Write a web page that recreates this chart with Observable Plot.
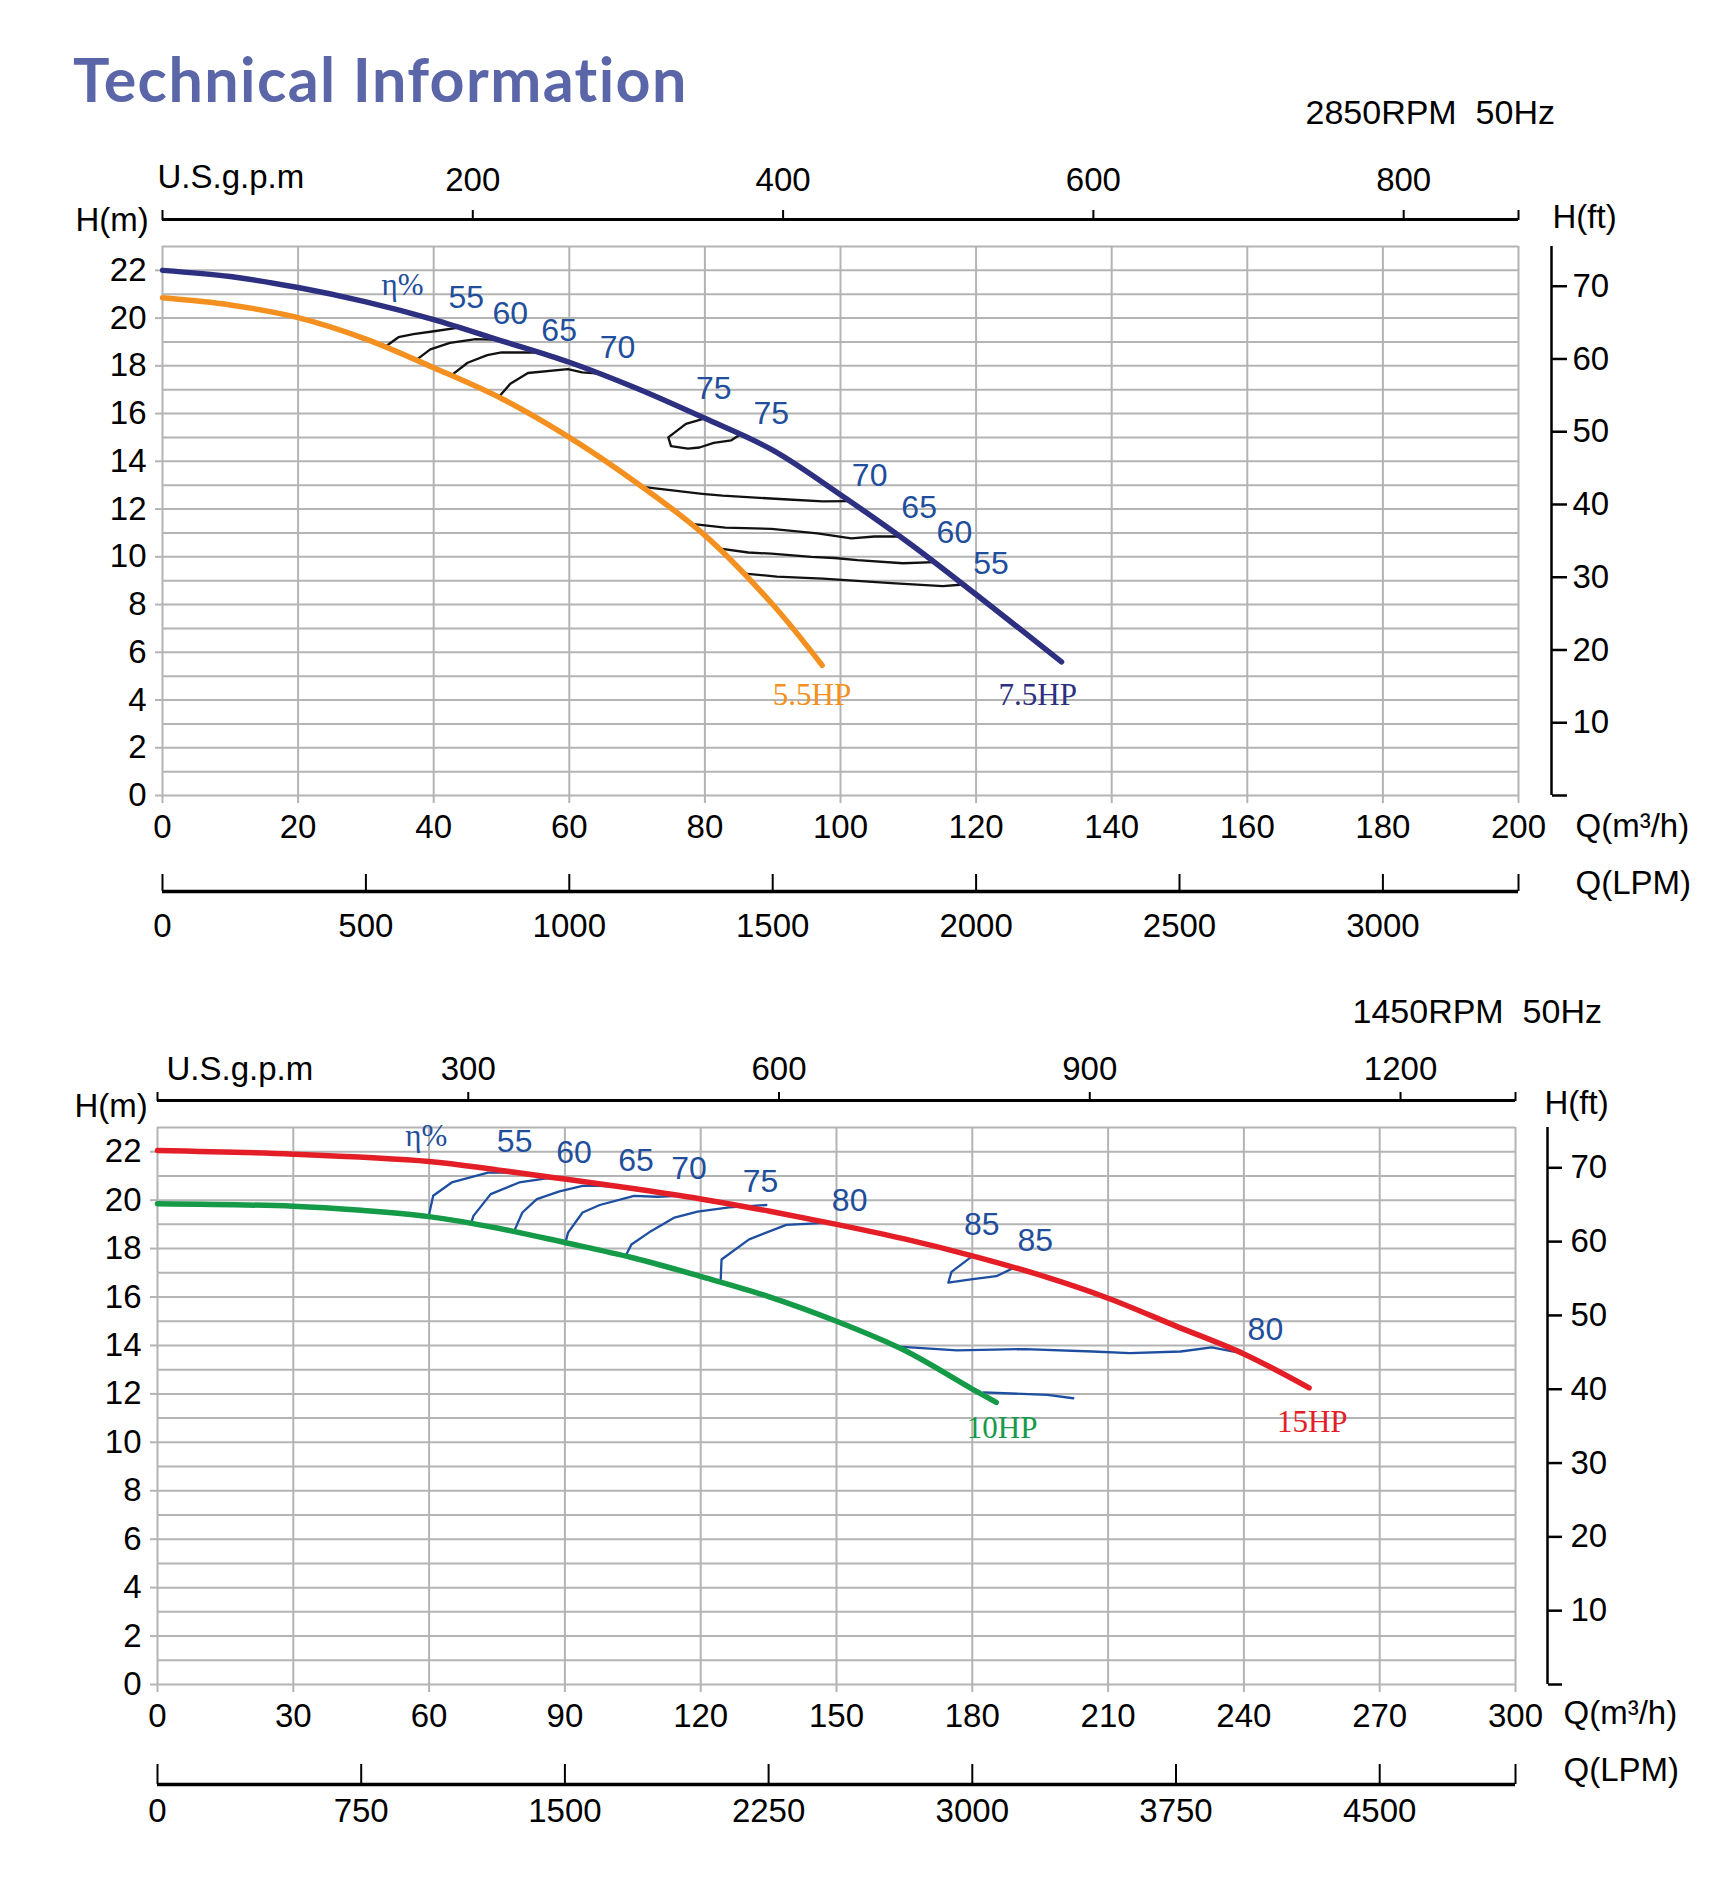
<!DOCTYPE html>
<html>
<head>
<meta charset="utf-8">
<script src="https://cdn.jsdelivr.net/npm/d3@7"></script>
<script src="https://cdn.jsdelivr.net/npm/@observablehq/plot@0.6"></script>
<style>
  html, body { margin: 0; padding: 0; background: #ffffff; }
  #page { position: relative; width: 1736px; height: 1884px; overflow: hidden; background: #ffffff; }
  #title { position: absolute; left: 73px; top: 48px; font-family: Lato, "Open Sans", sans-serif; font-weight: 700; font-size: 61px; line-height: 1; letter-spacing: 1.4px; color: #5a66a8; white-space: nowrap; }
</style>
</head>
<body>
<div id="page"><div id="title">Technical Information</div></div>
<script>
// ---------------- unit conversions (as drawn on the chart) ----------------
const GPM_PER_M3H = 4.37;        // U.S.g.p.m scale as drawn
const LPM_PER_M3H = 1000 / 60;
const FT_PER_M = 3.28084;

// ---------------- shared tick values ----------------
const hTicks = [0, 2, 4, 6, 8, 10, 12, 14, 16, 18, 20, 22];
const hGrid = [0, 1, 2, 3, 4, 5, 6, 7, 8, 9, 10, 11, 12, 13, 14, 15, 16, 17, 18, 19, 20, 21, 22, 23];
const ftTicks = [0, 10, 20, 30, 40, 50, 60, 70];

// ---------------- panel 1 : 2850RPM 50Hz ----------------
const p1Rpm = "2850RPM  50Hz";
const p1QMax = 200;
const p1QTicks = [0, 20, 40, 60, 80, 100, 120, 140, 160, 180, 200];
const p1GpmTicks = [200, 400, 600, 800];
const p1LpmTicks = [0, 500, 1000, 1500, 2000, 2500, 3000];

const p1Hp75 = [[0, 22.0], [10, 21.74], [20, 21.28], [30, 20.68], [40, 19.94], [50, 19.05], [60, 18.15], [70, 17.05], [80, 15.8], [90, 14.47], [100, 12.6], [110, 10.6], [120, 8.42], [132.6, 5.6]];
const p1Hp55 = [[0, 20.85], [10, 20.55], [20, 20.02], [30, 19.12], [40, 17.92], [50, 16.63], [60, 15.0], [70, 13.08], [80, 10.9], [90, 8.0], [97.3, 5.45]];

const p1Eta55a = [[32.7, 18.77], [34.8, 19.2], [37.0, 19.33], [40.3, 19.46], [43.7, 19.6]];
const p1Eta60a = [[37.4, 18.24], [39.5, 18.69], [42.4, 18.96], [46.2, 19.12], [49.6, 19.09]];
const p1Eta65a = [[42.6, 17.6], [45.0, 18.13], [47.9, 18.45], [50.0, 18.56], [55.5, 18.56]];
const p1Eta70a = [[49.6, 16.69], [51.3, 17.25], [53.9, 17.7], [59.8, 17.86], [61.9, 17.73], [64.4, 17.68]];
const p1Eta75 = [[80.0, 15.8], [77.2, 15.57], [74.6, 15.0], [75.0, 14.64], [77.5, 14.53], [79.2, 14.58], [81.3, 14.77], [83.9, 14.88], [85.1, 15.1]];
const p1Eta70b = [[70.8, 12.93], [79.6, 12.64], [82.6, 12.56], [92.3, 12.4], [97.4, 12.32], [101.2, 12.33]];
const p1Eta65b = [[78.0, 11.38], [83.0, 11.22], [89.8, 11.17], [96.6, 10.98], [101.6, 10.77], [105.0, 10.85], [108.8, 10.85]];
const p1Eta60b = [[82.0, 10.35], [86.4, 10.18], [89.8, 10.13], [95.7, 10.0], [99.1, 9.95], [102.5, 9.86], [109.2, 9.73], [113.9, 9.78]];
const p1Eta55b = [[85.5, 9.31], [90.6, 9.17], [97.4, 9.09], [107.5, 8.9], [115.1, 8.77], [118.1, 8.84]];

const p1EtaSymbol = { q: 35.4, h: 21.4 };
const p1EtaText = ["55", "60", "65", "70", "75", "75", "70", "65", "60", "55"];
const p1EtaQ = [44.8, 51.3, 58.5, 67.1, 81.3, 89.8, 104.3, 111.6, 116.8, 122.2];
const p1EtaH = [20.85, 20.2, 19.46, 18.77, 17.06, 16.0, 13.4, 12.05, 11.0, 9.69];
const p1HpText = ["5.5HP", "7.5HP"];
const p1HpQ = [95.8, 129.1];
const p1HpH = [4.21, 4.21];

// ---------------- panel 2 : 1450RPM 50Hz ----------------
const p2Rpm = "1450RPM  50Hz";
const p2QMax = 300;
const p2QTicks = [0, 30, 60, 90, 120, 150, 180, 210, 240, 270, 300];
const p2GpmTicks = [300, 600, 900, 1200];
const p2LpmTicks = [0, 750, 1500, 2250, 3000, 3750, 4500];

const p2Hp15 = [[0, 22.05], [30, 21.9], [60, 21.6], [75, 21.25], [90, 20.87], [105, 20.48], [120, 20.05], [135, 19.55], [150, 19.0], [165, 18.4], [180, 17.7], [195, 16.9], [210, 15.95], [225, 14.8], [240, 13.65], [254.4, 12.25]];
const p2Hp10 = [[0, 19.85], [30, 19.75], [45, 19.58], [60, 19.32], [75, 18.85], [90, 18.25], [105, 17.62], [120, 16.85], [135, 16.02], [150, 15.0], [165, 13.8], [180, 12.2], [185.3, 11.65]];

const p2Eta55 = [[59.9, 19.32], [60.9, 20.18], [65.0, 20.73], [73.0, 21.14], [79.9, 21.14]];
const p2Eta60 = [[69.2, 19.0], [69.8, 19.35], [73.6, 20.25], [79.9, 20.73], [86.3, 20.91], [91.4, 20.87]];
const p2Eta65 = [[78.7, 18.68], [80.6, 19.49], [83.8, 20.04], [88.8, 20.36], [93.9, 20.59], [97.7, 20.59], [103.4, 20.52]];
const p2Eta70 = [[90.1, 18.24], [90.7, 18.66], [93.9, 19.49], [97.7, 19.8], [105.3, 20.18], [110.4, 20.14], [115.4, 20.18]];
const p2Eta75 = [[103.4, 17.69], [104.7, 18.17], [109.1, 18.73], [114.2, 19.28], [119.3, 19.53], [126.3, 19.7], [134.5, 19.8]];
const p2Eta80a = [[124.4, 16.63], [124.6, 17.55], [130.7, 18.38], [138.9, 18.98], [148.5, 19.07]];
const p2Eta85 = [[180.0, 17.69], [175.4, 17.04], [174.7, 16.59], [179.7, 16.73], [185.3, 16.86], [189.1, 17.2]];
const p2Eta80b = [[162.9, 13.96], [176.6, 13.8], [191.6, 13.85], [206.6, 13.75], [214.8, 13.68], [226.0, 13.75], [232.9, 13.92], [240.0, 13.66]];
const p2Eta75b = [[182.5, 12.06], [196.6, 11.96], [202.3, 11.82]];

const p2EtaSymbol = { q: 59.4, h: 22.66 };
const p2EtaText = ["55", "60", "65", "70", "75", "80", "85", "85", "80"];
const p2EtaQ = [78.9, 92.0, 105.7, 117.4, 133.2, 152.9, 182.1, 193.9, 244.75];
const p2EtaH = [22.41, 21.97, 21.63, 21.31, 20.76, 19.97, 18.98, 18.31, 14.65];
const p2HpText = ["10HP", "15HP"];
const p2HpQ = [186.6, 255.1];
const p2HpH = [10.58, 10.85];

// ---------------- styles ----------------
const W = 1736;
const GRID = "#b4b4b4";
const LABEL_BLUE = "#1f4e9c";
const SANS = "'Liberation Sans', Arial, Helvetica, sans-serif";
const SERIF = "'Liberation Serif', 'Times New Roman', serif";
const SVG_STYLE = "background:transparent;overflow:visible;font-family:" + SANS + ";color:#000;";
const FS = 33;
const plain = v => String(v);

const page = document.getElementById("page");
function put(svg, left, top) {
  svg.style.position = "absolute";
  svg.style.left = left + "px";
  svg.style.top = top + "px";
  page.appendChild(svg);
}

function drawPanel(L, D) {
  // ---- main chart ----
  const mt = 60, mb = 80;
  const main = Plot.plot({
    width: W,
    height: (L.frameB - L.frameT) + mt + mb,
    marginLeft: L.frameL, marginRight: W - L.frameR, marginTop: mt, marginBottom: mb,
    x: {domain: [0, D.qMax]},
    y: {domain: [0, 23]},
    style: SVG_STYLE,
    marks: [
      Plot.ruleY(hGrid, {stroke: GRID, strokeWidth: 2}),
      Plot.ruleX(D.qTicks, {stroke: GRID, strokeWidth: 2}),
      Plot.axisY({ticks: hTicks, tickFormat: plain, tickSize: 7, tickPadding: 9, stroke: GRID, strokeWidth: 2, fill: "#000", fontSize: FS, label: null}),
      Plot.axisX({ticks: D.qTicks, tickFormat: plain, tickSize: 8, tickPadding: 11, stroke: GRID, strokeWidth: 2, fill: "#000", fontSize: FS, label: null}),
      ...D.eff.map(e => Plot.line(e, {x: d => d[0], y: d => d[1], stroke: D.effColor, strokeWidth: 2.3})),
      ...D.curves.map(c => Plot.line(c.data, {x: d => d[0], y: d => d[1], stroke: c.color, strokeWidth: 5.5, curve: "catmull-rom"})),
      Plot.text(["η%"], {x: D.etaSymbol.q, y: D.etaSymbol.h, fill: LABEL_BLUE, fontSize: 31, fontFamily: SERIF}),
      Plot.text(D.etaText, {x: (d, i) => D.etaQ[i], y: (d, i) => D.etaH[i], fill: LABEL_BLUE, fontSize: 32}),
      Plot.text(D.hpText, {x: (d, i) => D.hpQ[i], y: (d, i) => D.hpH[i], fill: (d, i) => D.hpColors[i], fontSize: 31, fontFamily: SERIF}),
      Plot.text(["H(m)"], {frameAnchor: "top-left", textAnchor: "start", lineAnchor: "middle", dx: L.hmDx, dy: L.hmDy, fontSize: FS, fill: "#000"}),
      Plot.text(["H(ft)"], {frameAnchor: "top-right", textAnchor: "start", lineAnchor: "middle", dx: L.hftDx, dy: L.hftDy, fontSize: FS, fill: "#000"}),
      Plot.text(["Q(m³/h)"], {frameAnchor: "bottom-right", textAnchor: "start", lineAnchor: "middle", dx: L.qDx, dy: L.qm3Dy, fontSize: FS, fill: "#000"})
    ]
  });
  put(main, 0, L.frameT - mt);

  // ---- H(ft) axis ----
  const fl = 50, fw = 140;
  const ft = Plot.plot({
    width: fw,
    height: (L.frameB - L.frameT) + mt + mb,
    marginLeft: fl, marginRight: fw - fl - 1, marginTop: mt, marginBottom: mb,
    x: {domain: [0, 1], axis: null},
    y: {domain: [0, 23 * FT_PER_M]},
    style: SVG_STYLE,
    marks: [
      Plot.ruleX([1], {stroke: "#000", strokeWidth: 2.5}),
      Plot.axisY({anchor: "right", ticks: ftTicks, tickFormat: v => v === 0 ? "" : String(v), tickSize: L.ftTickLen, tickPadding: L.ftPad, stroke: "#000", strokeWidth: 2.5, fill: "#000", fontSize: FS, label: null})
    ]
  });
  put(ft, L.ftLine - fl - 1, L.frameT - mt);

  // ---- U.S.g.p.m axis ----
  const gmt = 150, gh = 161;
  const gpmMax = D.qMax * GPM_PER_M3H;
  const gpm = Plot.plot({
    width: W, height: gh,
    marginLeft: L.frameL, marginRight: W - L.frameR, marginTop: gmt, marginBottom: gh - gmt - 1,
    x: {domain: [0, gpmMax]},
    y: {domain: [0, 1], axis: null},
    style: SVG_STYLE,
    marks: [
      Plot.ruleY([1], {stroke: "#000", strokeWidth: 3}),
      Plot.axisX({anchor: "top", ticks: [0, ...D.gpmTicks, gpmMax], tickFormat: v => D.gpmTicks.includes(v) ? String(v) : "", tickSize: L.gpmTickLen, tickPadding: L.gpmPad, stroke: "#000", strokeWidth: 2, fill: "#000", fontSize: FS, label: null}),
      Plot.text(["U.S.g.p.m"], {frameAnchor: "top-left", textAnchor: "start", lineAnchor: "bottom", dx: L.gpmTitleDx, dy: L.gpmTitleDy, fontSize: FS, fill: "#000"}),
      Plot.text([D.rpm], {frameAnchor: "top-right", textAnchor: "start", lineAnchor: "middle", dx: L.rpmDx, dy: L.rpmDy, fontSize: 34, fill: "#000"})
    ]
  });
  put(gpm, 0, L.gpmLine - gmt);

  // ---- Q(LPM) axis ----
  const lmt = 40, lh = 100;
  const lpmMax = D.qMax * LPM_PER_M3H;
  const lpm = Plot.plot({
    width: W, height: lh,
    marginLeft: L.frameL, marginRight: W - L.frameR, marginTop: lmt, marginBottom: lh - lmt - 1,
    x: {domain: [0, lpmMax]},
    y: {domain: [0, 1], axis: null},
    style: SVG_STYLE,
    marks: [
      Plot.ruleY([0], {stroke: "#000", strokeWidth: 3.5}),
      Plot.axisX({anchor: "top", ticks: [...D.lpmTicks, lpmMax], tickFormat: () => "", tickSize: L.lpmTickLen, stroke: "#000", strokeWidth: 2, label: null}),
      Plot.axisX({anchor: "bottom", ticks: D.lpmTicks, tickFormat: plain, tickSize: 0, tickPadding: L.lpmPad, fill: "#000", fontSize: FS, label: null}),
      Plot.text(["Q(LPM)"], {frameAnchor: "top-right", textAnchor: "start", lineAnchor: "middle", dx: L.qDx, dy: L.qlpmDy, fontSize: FS, fill: "#000"})
    ]
  });
  put(lpm, 0, L.lpmLine - lmt);
}

drawPanel(
  {frameL: 162, frameR: 1518, frameT: 246, frameB: 795,
   hmDx: -87, hmDy: -26, hftDx: 34, hftDy: -29, qDx: 57, qm3Dy: 31,
   ftLine: 1551, ftTickLen: 15, ftPad: 6,
   gpmLine: 219, gpmTickLen: 10, gpmPad: 19, gpmTitleDx: -5, gpmTitleDy: -32, rpmDx: -213, rpmDy: -106,
   lpmLine: 890, lpmTickLen: 17, lpmPad: 22, qlpmDy: -7},
  {qMax: p1QMax, qTicks: p1QTicks, gpmTicks: p1GpmTicks, lpmTicks: p1LpmTicks, rpm: p1Rpm,
   curves: [{data: p1Hp55, color: "#f39020"}, {data: p1Hp75, color: "#2d2f80"}],
   eff: [p1Eta55a, p1Eta60a, p1Eta65a, p1Eta70a, p1Eta75, p1Eta70b, p1Eta65b, p1Eta60b, p1Eta55b],
   effColor: "#111111",
   etaSymbol: p1EtaSymbol, etaText: p1EtaText, etaQ: p1EtaQ, etaH: p1EtaH,
   hpText: p1HpText, hpQ: p1HpQ, hpH: p1HpH, hpColors: ["#f39020", "#2d2f80"]}
);

drawPanel(
  {frameL: 157, frameR: 1515, frameT: 1127, frameB: 1684,
   hmDx: -83, hmDy: -21, hftDx: 29, hftDy: -24, qDx: 48, qm3Dy: 29,
   ftLine: 1547, ftTickLen: 14, ftPad: 9,
   gpmLine: 1100, gpmTickLen: 9, gpmPad: 12, gpmTitleDx: 9, gpmTitleDy: -21, rpmDx: -163, rpmDy: -88,
   lpmLine: 1783, lpmTickLen: 20, lpmPad: 14, qlpmDy: -13},
  {qMax: p2QMax, qTicks: p2QTicks, gpmTicks: p2GpmTicks, lpmTicks: p2LpmTicks, rpm: p2Rpm,
   curves: [{data: p2Hp10, color: "#159a48"}, {data: p2Hp15, color: "#e41e26"}],
   eff: [p2Eta55, p2Eta60, p2Eta65, p2Eta70, p2Eta75, p2Eta80a, p2Eta85, p2Eta80b, p2Eta75b],
   effColor: "#1d4ea0",
   etaSymbol: p2EtaSymbol, etaText: p2EtaText, etaQ: p2EtaQ, etaH: p2EtaH,
   hpText: p2HpText, hpQ: p2HpQ, hpH: p2HpH, hpColors: ["#159a48", "#e41e26"]}
);
</script>
</body>
</html>
